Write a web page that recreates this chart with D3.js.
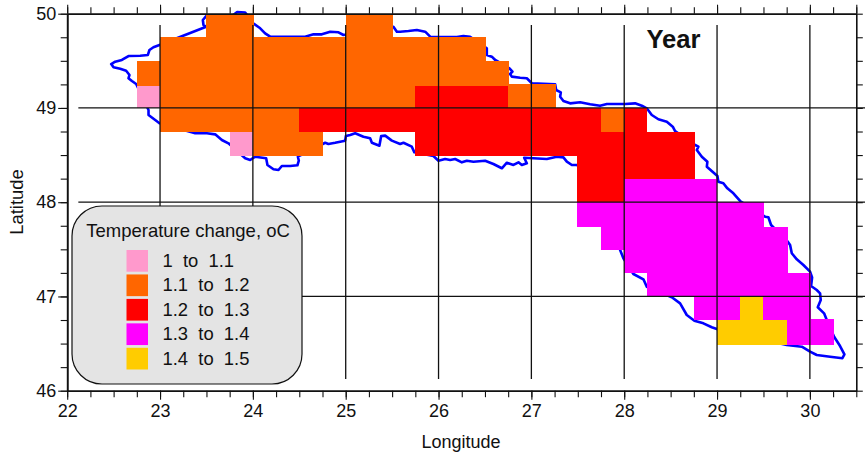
<!DOCTYPE html>
<html>
<head>
<meta charset="utf-8">
<script src="https://cdn.jsdelivr.net/npm/d3@7"></script>
<style>
    body { margin: 0; background: #fff; }
    svg { display: block; }
    text { font-family: "Liberation Sans", Arial, sans-serif; fill: #111; }
</style>
</head>
<body>
<div id="chart"></div>
<script>
// Tick values
const lonTicks = [22, 23, 24, 25, 26, 27, 28, 29, 30];
const latTicks = [46, 47, 48, 49, 50];
const lonGrid = [23, 24, 25, 26, 27, 28, 29, 30];
const latGrid = [47, 48, 49];

// Legend classes
const binLabels = ["1  to  1.1", "1.1  to  1.2", "1.2  to  1.3", "1.3  to  1.4", "1.4  to  1.5"];
const binColors = ["#ff99cc", "#ff6600", "#ff0000", "#ff00ff", "#ffcc00"];

// Grid cells: lon from, lon to, lat from, lat to, class
const cells = [
    [23.5, 24.01, 49.75, 50, 1],
    [25, 25.51, 49.75, 50, 1],
    [23, 26.51, 49.5, 49.75, 1],
    [22.75, 23, 49.23, 49.5, 1],
    [23, 26.76, 49.23, 49.5, 1],
    [22.75, 23, 49, 49.23, 0],
    [23, 25.75, 49, 49.23, 1],
    [25.75, 26.75, 49, 49.23, 2],
    [26.75, 27.26, 49, 49.25, 1],
    [23, 24.5, 48.74, 49, 1],
    [24.5, 27.75, 48.74, 49, 2],
    [27.75, 28, 48.74, 49, 1],
    [28, 28.25, 48.74, 49, 2],
    [23.75, 24, 48.49, 48.74, 0],
    [24, 24.76, 48.49, 48.74, 1],
    [25.75, 28.76, 48.49, 48.74, 2],
    [27.495, 28.76, 48.24, 48.49, 2],
    [27.495, 28, 48, 48.24, 2],
    [28, 29, 48, 48.25, 3],
    [27.495, 29.51, 47.74, 48, 3],
    [27.75, 29.76, 47.49, 47.74, 3],
    [28, 29.76, 47.25, 47.49, 3],
    [28.25, 30.01, 47, 47.25, 3],
    [28.75, 29.25, 46.745, 47, 3],
    [29.25, 29.5, 46.745, 47, 4],
    [29.5, 30.01, 46.745, 47, 3],
    [29, 29.75, 46.49, 46.745, 4],
    [29.75, 30.26, 46.49, 46.76, 3]
];

// Outline of the region
const outlineLon = [22.474, 22.517, 22.589, 22.660, 22.786, 22.869, 22.886, 22.929, 22.994, 23.497, 23.468, 23.461, 23.497, 23.594, 23.788, 23.831, 23.917, 24.003, 24.079, 24.132, 24.186, 24.563, 24.653, 24.743, 24.833, 24.922, 24.976, 25.514, 25.551, 25.586, 25.676, 25.766, 25.856, 25.910, 26.197, 26.268, 26.340, 26.520, 26.520, 26.574, 26.610, 26.764, 26.796, 26.771, 26.789, 26.879, 26.951, 27.005, 27.256, 27.267, 27.317, 27.310, 27.345, 27.417, 27.525, 27.633, 27.740, 27.813, 27.902, 28.010, 28.117, 28.190, 28.243, 28.297, 28.368, 28.459, 28.523, 28.548, 28.764, 28.799, 28.782, 28.836, 28.896, 28.890, 29.004, 29.014, 29.068, 29.111, 29.176, 29.248, 29.517, 29.553, 29.582, 29.762, 29.787, 29.805, 29.859, 29.930, 30.002, 30.024, 30.013, 30.074, 30.110, 30.117, 30.085, 30.153, 30.182, 30.261, 30.325, 30.372, 30.350, 30.218, 30.074, 30.002, 29.913, 29.751, 28.997, 28.943, 28.853, 28.756, 28.674, 28.602, 28.513, 28.243, 28.207, 28.099, 27.991, 27.956, 27.496, 27.436, 27.382, 27.345, 27.274, 27.166, 27.022, 26.922, 26.951, 26.897, 26.861, 26.807, 26.736, 26.682, 26.591, 26.502, 26.376, 26.305, 26.251, 26.179, 26.125, 26.071, 25.999, 25.945, 25.740, 25.712, 25.622, 25.586, 25.497, 25.425, 25.382, 25.363, 25.282, 25.263, 25.191, 25.102, 25.048, 25.002, 24.994, 24.886, 24.814, 24.779, 24.485, 24.495, 24.480, 24.402, 24.312, 24.276, 24.222, 24.157, 24.143, 24.025, 23.971, 23.917, 23.737, 23.666, 23.594, 23.505, 23.379, 22.994, 22.948, 22.876, 22.876, 22.743, 22.697, 22.660, 22.671, 22.635, 22.571, 22.499];
const outlineLat = [49.466, 49.491, 49.509, 49.551, 49.554, 49.562, 49.615, 49.644, 49.668, 49.862, 49.880, 49.933, 49.975, 49.970, 49.985, 50.018, 50.013, 49.898, 49.845, 49.792, 49.756, 49.756, 49.781, 49.781, 49.809, 49.803, 49.774, 49.862, 49.809, 49.809, 49.816, 49.827, 49.809, 49.756, 49.753, 49.763, 49.756, 49.633, 49.562, 49.544, 49.509, 49.421, 49.385, 49.360, 49.332, 49.321, 49.315, 49.262, 49.251, 49.190, 49.166, 49.119, 49.074, 49.049, 49.060, 49.039, 49.024, 49.042, 49.042, 49.042, 49.049, 49.024, 48.996, 48.925, 48.880, 48.854, 48.801, 48.755, 48.607, 48.589, 48.554, 48.483, 48.430, 48.377, 48.278, 48.218, 48.201, 48.147, 48.094, 48.013, 47.846, 47.840, 47.758, 47.581, 47.546, 47.458, 47.394, 47.334, 47.263, 47.203, 47.111, 47.068, 47.033, 46.962, 46.885, 46.821, 46.750, 46.573, 46.474, 46.386, 46.344, 46.361, 46.379, 46.414, 46.467, 46.485, 46.655, 46.673, 46.715, 46.743, 46.803, 46.927, 46.991, 47.103, 47.182, 47.238, 47.405, 47.493, 48.395, 48.395, 48.430, 48.476, 48.483, 48.458, 48.466, 48.472, 48.413, 48.395, 48.423, 48.395, 48.419, 48.360, 48.405, 48.440, 48.430, 48.440, 48.423, 48.458, 48.448, 48.458, 48.440, 48.490, 48.529, 48.589, 48.631, 48.618, 48.653, 48.706, 48.702, 48.599, 48.631, 48.678, 48.695, 48.731, 48.713, 48.702, 48.653, 48.631, 48.618, 48.631, 48.483, 48.440, 48.392, 48.384, 48.384, 48.342, 48.349, 48.395, 48.466, 48.483, 48.448, 48.466, 48.625, 48.660, 48.720, 48.731, 48.731, 48.837, 48.872, 48.925, 48.978, 49.254, 49.286, 49.315, 49.350, 49.395, 49.416, 49.431];

const width = 865, height = 452;

const x = d3.scaleLinear().domain([22, 30.5]).range([67.2, 856.3]);
const y = d3.scaleLinear().domain([46, 50]).range([390.7, 13.7]);

const svg = d3.select("#chart").append("svg")
    .attr("width", width)
    .attr("height", height);

// Outline sits under the cells
const outline = d3.line()
    .x((d) => x(d[0]))
    .y((d) => y(d[1]))
    .curve(d3.curveLinearClosed);

svg.append("path")
    .datum(outlineLon.map((lon, i) => [lon, outlineLat[i]]))
    .attr("d", outline)
    .attr("fill", "none")
    .attr("stroke", "#0000ff")
    .attr("stroke-width", 2.6)
    .attr("stroke-linejoin", "round");

svg.selectAll("rect.cell")
    .data(cells)
    .enter()
    .append("rect")
    .attr("class", "cell")
    .attr("x", (d) => x(d[0]))
    .attr("y", (d) => y(d[3]))
    .attr("width", (d) => x(d[1]) - x(d[0]))
    .attr("height", (d) => y(d[2]) - y(d[3]))
    .attr("fill", (d) => binColors[d[4]])
    .attr("shape-rendering", "crispEdges");

// Grid lines stop short of the frame
svg.selectAll("line.vgrid")
    .data(lonGrid)
    .enter()
    .append("line")
    .attr("class", "vgrid")
    .attr("x1", (d) => x(d))
    .attr("x2", (d) => x(d))
    .attr("y1", y(49.88))
    .attr("y2", y(46.125))
    .attr("stroke", "#111")
    .attr("stroke-width", 1.3);

svg.selectAll("line.hgrid")
    .data(latGrid)
    .enter()
    .append("line")
    .attr("class", "hgrid")
    .attr("x1", x(22.12))
    .attr("x2", width)
    .attr("y1", (d) => y(d))
    .attr("y2", (d) => y(d))
    .attr("stroke", "#111")
    .attr("stroke-width", 1.3);

// Axes: a minor pass without labels, then the major ticks
const lonMinor = d3.range(22, 30.51, 0.25);
const latMinor = d3.range(46, 50.01, 0.25);

function drawAxis(axis, translate) {
    const g = svg.append("g")
        .attr("transform", translate)
        .call(axis);
    g.select(".domain").attr("stroke", "#111").attr("stroke-width", 1.6);
    g.selectAll(".tick line").attr("stroke", "#111").attr("stroke-width", 1.1);
    g.selectAll(".tick text").style("font-size", "18px").attr("fill", "#111");
    return g;
}

const atBottom = `translate(0,${y(46)})`;
const atTop = `translate(0,${y(50)})`;
const atLeft = `translate(${x(22)},0)`;
const atRight = `translate(${x(30.5)},0)`;

drawAxis(d3.axisBottom(x).tickValues(lonMinor).tickSize(6.5).tickSizeOuter(0).tickFormat(""), atBottom);
drawAxis(d3.axisBottom(x).tickValues(lonTicks).tickSize(9).tickSizeOuter(0).tickPadding(5).tickFormat(d3.format("d")), atBottom);
drawAxis(d3.axisTop(x).tickValues(lonMinor).tickSize(6.5).tickSizeOuter(0).tickFormat(""), atTop);
drawAxis(d3.axisTop(x).tickValues(lonTicks.concat([30.5])).tickSize(9).tickSizeOuter(0).tickFormat(""), atTop);
drawAxis(d3.axisLeft(y).tickValues(latMinor).tickSize(6.5).tickSizeOuter(0).tickFormat(""), atLeft);
drawAxis(d3.axisLeft(y).tickValues(latTicks).tickSize(9).tickSizeOuter(0).tickPadding(2).tickFormat(d3.format("d")), atLeft);
drawAxis(d3.axisRight(y).tickValues(latMinor).tickSize(6.5).tickSizeOuter(0).tickFormat(""), atRight);

// Titles
svg.append("text")
    .attr("x", 461)
    .attr("y", 448)
    .attr("text-anchor", "middle")
    .style("font-size", "18px")
    .text("Longitude");

svg.append("text")
    .attr("transform", "translate(23,202) rotate(-90)")
    .attr("text-anchor", "middle")
    .style("font-size", "18.4px")
    .text("Latitude");

svg.append("text")
    .attr("x", 673.5)
    .attr("y", 48)
    .attr("text-anchor", "middle")
    .style("font-size", "25.6px")
    .style("font-weight", "bold")
    .text("Year");

// Legend
const legend = svg.append("g");

legend.append("rect")
    .attr("x", 72)
    .attr("y", 206)
    .attr("width", 230)
    .attr("height", 178)
    .attr("rx", 30)
    .attr("ry", 30)
    .attr("fill", "#e4e4e4")
    .attr("stroke", "#111")
    .attr("stroke-width", 1.2);

legend.append("text")
    .attr("x", 188)
    .attr("y", 237)
    .attr("text-anchor", "middle")
    .style("font-size", "18.5px")
    .text("Temperature change, oC");

legend.selectAll("rect.swatch")
    .data(binColors)
    .enter()
    .append("rect")
    .attr("class", "swatch")
    .attr("x", 126.5)
    .attr("y", (d, i) => 250 + i * 24.45)
    .attr("width", 21.5)
    .attr("height", 21.7)
    .attr("fill", (d) => d);

legend.selectAll("text.entry")
    .data(binLabels)
    .enter()
    .append("text")
    .attr("class", "entry")
    .attr("x", 162.5)
    .attr("y", (d, i) => 267 + i * 24.45)
    .style("font-size", "18.4px")
    .style("white-space", "pre")
    .text((d) => d);
</script>
</body>
</html>
